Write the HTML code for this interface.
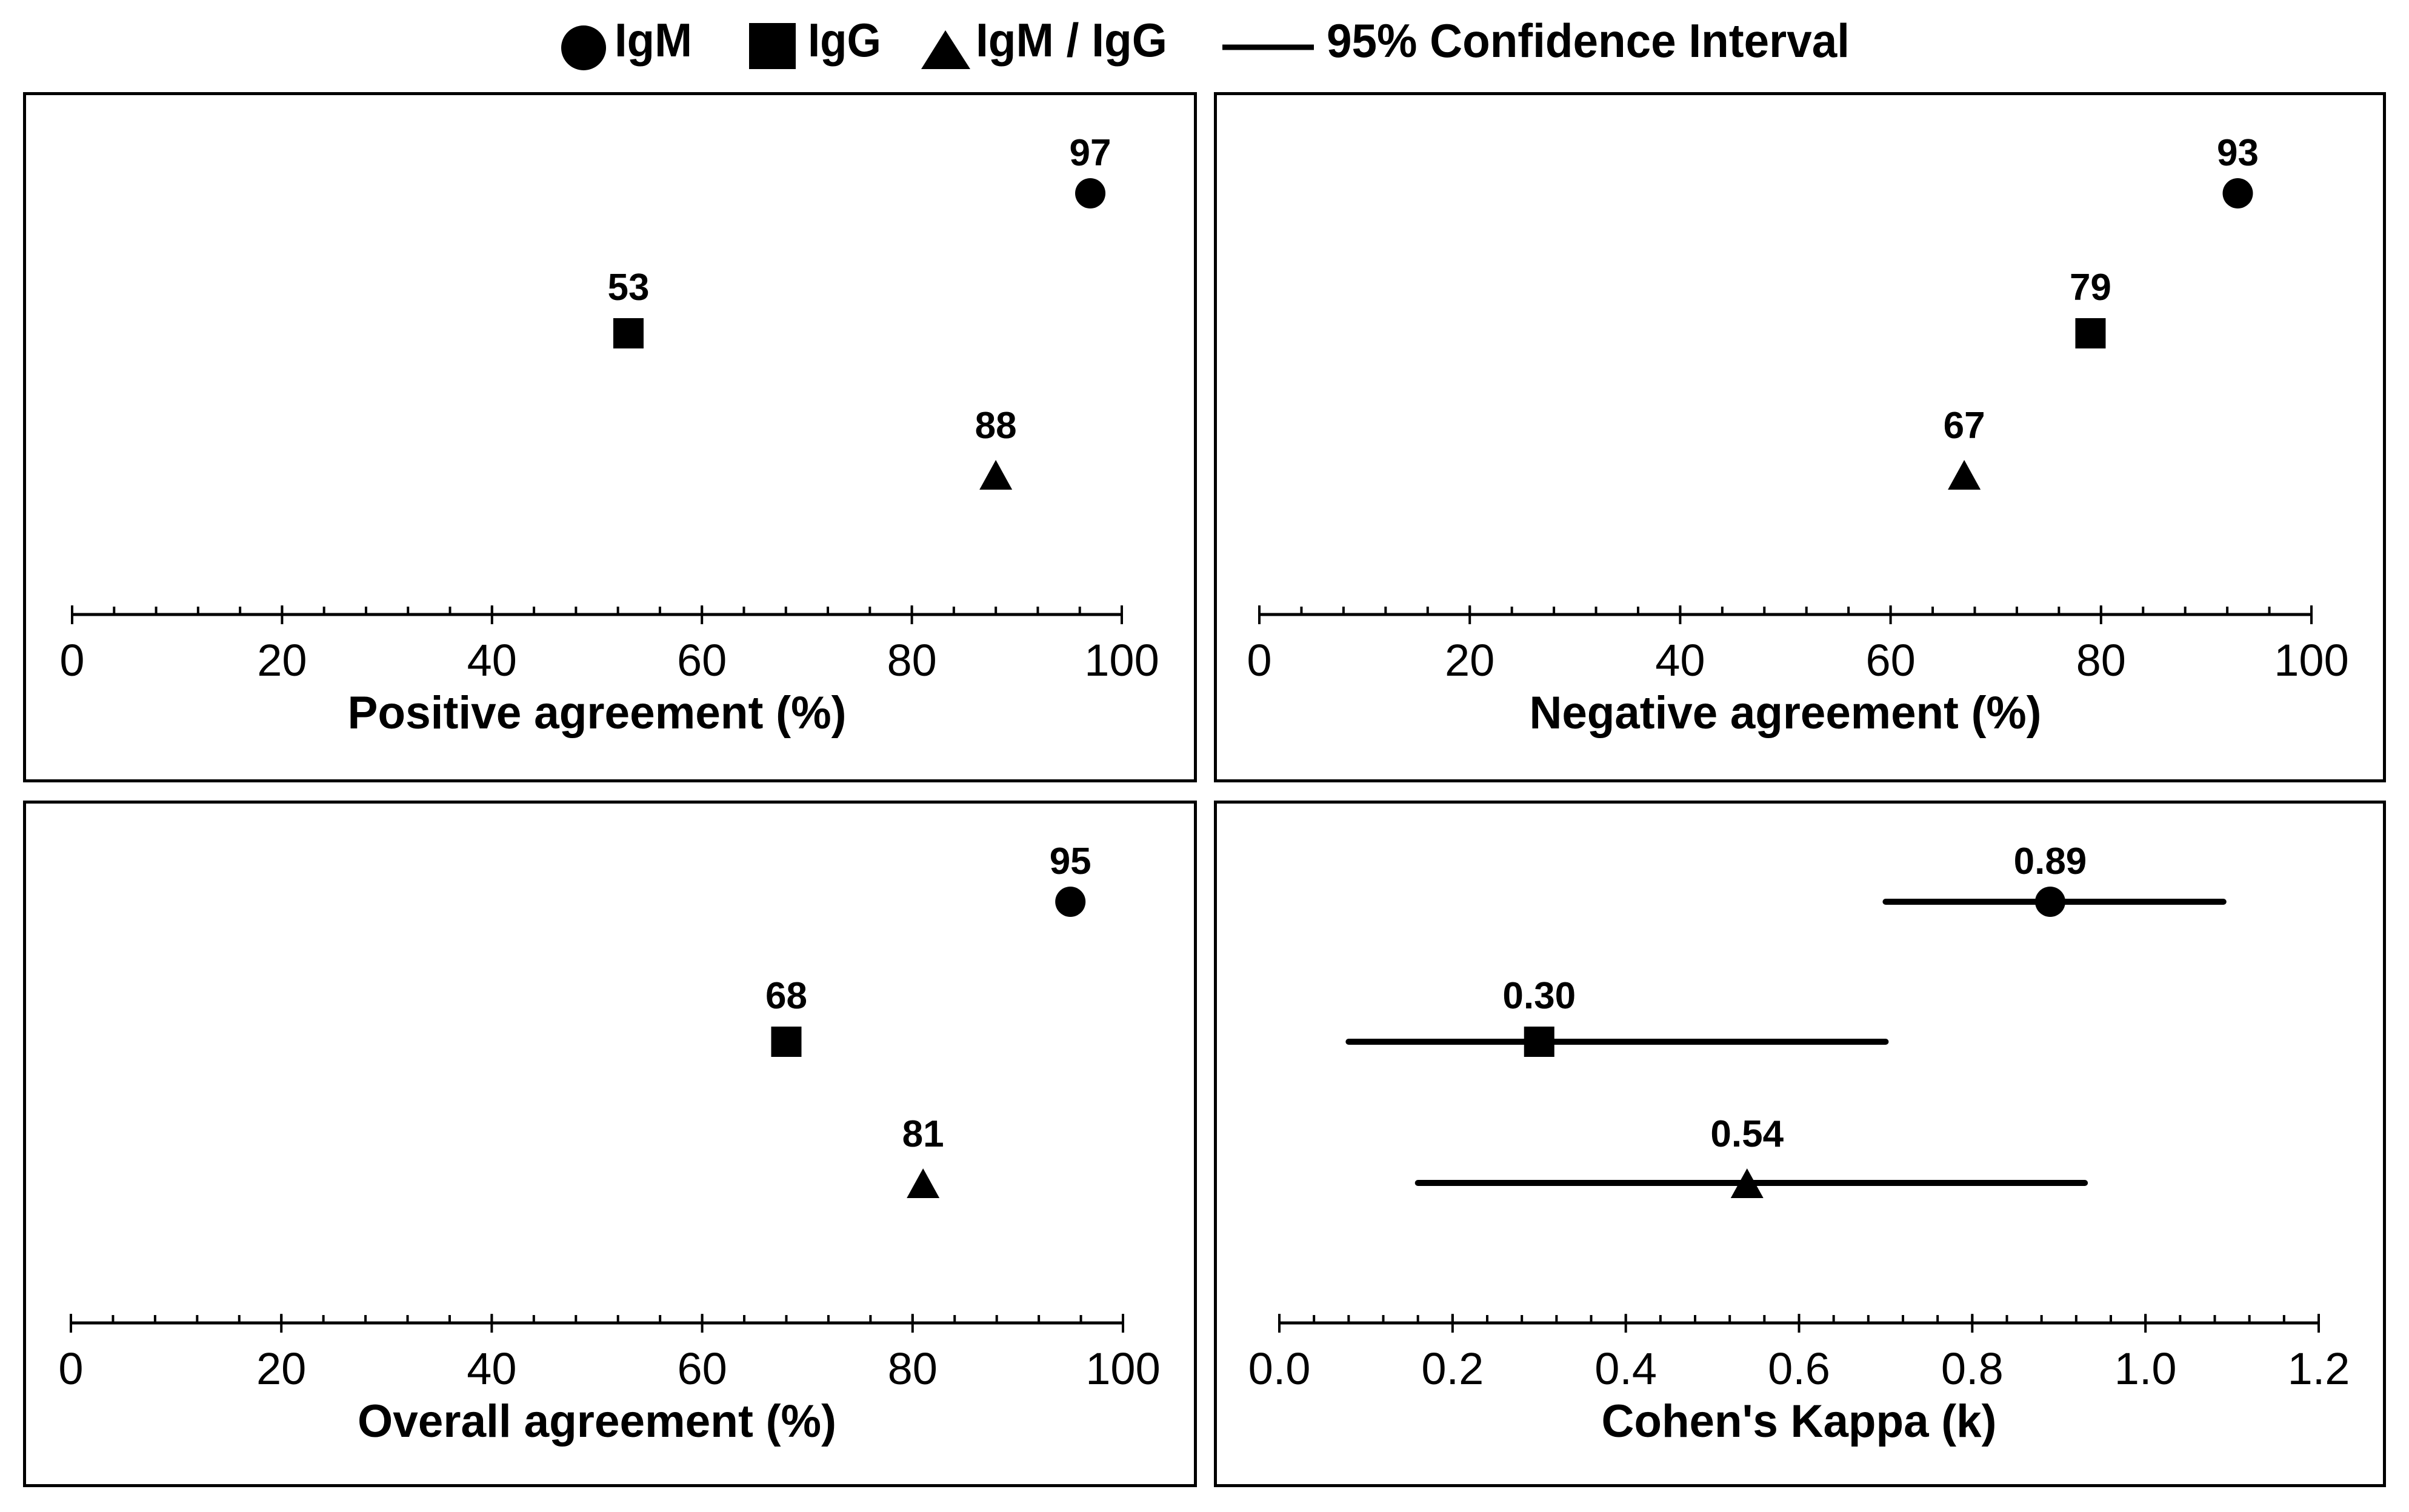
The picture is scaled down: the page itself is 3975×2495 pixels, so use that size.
<!DOCTYPE html>
<html><head><meta charset="utf-8"><style>
html,body{margin:0;padding:0;background:#fff;}
svg{display:block;}
text{font-family:"Liberation Sans",Arial,sans-serif;fill:#000;}
</style></head><body>
<svg id="fig" width="3975" height="2495" viewBox="0 0 3975 2495" xmlns="http://www.w3.org/2000/svg">
<g>
  <circle cx="963" cy="79" r="37"/>
  <text x="1014" y="93" font-size="78" font-weight="bold" textLength="128" lengthAdjust="spacingAndGlyphs">IgM</text>
  <rect x="1236" y="38" width="77" height="76"/>
  <text x="1333" y="93" font-size="78" font-weight="bold" textLength="121" lengthAdjust="spacingAndGlyphs">IgG</text>
  <polygon points="1520,114 1601,114 1560,50"/>
  <text x="1610" y="93" font-size="78" font-weight="bold" textLength="316" lengthAdjust="spacingAndGlyphs">IgM / IgG</text>
  <line x1="2017" y1="78" x2="2168" y2="78" stroke="#000" stroke-width="9"/>
  <text x="2189" y="94" font-size="78" font-weight="bold" textLength="863" lengthAdjust="spacingAndGlyphs">95% Confidence Interval</text>
</g>
</svg>
<script>
// Data
const seriesNames = ["IgM", "IgG", "IgM / IgG"];
const positiveValues = [97, 53, 88];
const negativeValues = [93, 79, 67];
const overallValues = [95, 68, 81];
const kappaValues = [0.89, 0.30, 0.54];
const kappaLower = [0.70, 0.08, 0.16];
const kappaUpper = [1.09, 0.70, 0.93];
const kappaLabels = ["0.89", "0.30", "0.54"];
const pctTicks = [0, 20, 40, 60, 80, 100];
const pctTickLabels = ["0", "20", "40", "60", "80", "100"];
const kappaTicks = [0, 0.2, 0.4, 0.6, 0.8, 1.0, 1.2];
const kappaTickLabels = ["0.0", "0.2", "0.4", "0.6", "0.8", "1.0", "1.2"];

const NS = "http://www.w3.org/2000/svg";
const svg = document.getElementById('fig');
function mk(tag, attrs, parent) {
  const e = document.createElementNS(NS, tag);
  for (const k in attrs) e.setAttribute(k, attrs[k]);
  (parent || svg).appendChild(e);
  return e;
}

const panels = [
  {id:"positive", x:38, y:152, w:1937, h:1139, ax0:119, ax1:1851, min:0, max:100, minor:4,
   ticks:pctTicks, tickLabels:pctTickLabels, values:positiveValues, labels:positiveValues.map(String),
   title:"Positive agreement (%)", titleLen:823, ci:false},
  {id:"negative", x:2003, y:152, w:1934, h:1139, ax0:2078, ax1:3814, min:0, max:100, minor:4,
   ticks:pctTicks, tickLabels:pctTickLabels, values:negativeValues, labels:negativeValues.map(String),
   title:"Negative agreement (%)", titleLen:845, ci:false},
  {id:"overall", x:38, y:1321, w:1937, h:1133, ax0:117, ax1:1853, min:0, max:100, minor:4,
   ticks:pctTicks, tickLabels:pctTickLabels, values:overallValues, labels:overallValues.map(String),
   title:"Overall agreement (%)", titleLen:790, ci:false},
  {id:"kappa", x:2003, y:1321, w:1934, h:1133, ax0:2111, ax1:3826, min:0, max:1.2, minor:0.04,
   ticks:kappaTicks, tickLabels:kappaTickLabels, values:kappaValues, labels:kappaLabels,
   title:"Cohen's Kappa (k)", titleLen:652, ci:false || true}
];
const rowOffsets = [167, 398, 631];
const labelGap = [46, 55, 60];

panels.forEach(p => {
  const g = mk('g', {});
  
  
  const frame = mk('rect', {x:p.x+2.5, y:p.y+2.5, width:p.w-5, height:p.h-5, fill:'none', stroke:'#000', 'stroke-width':5}, g);
  
  
  const sx = v => p.ax0 + (v - p.min) / (p.max - p.min) * (p.ax1 - p.ax0);
  const ay = p.y + 862;
  const ax = mk('g', {}, g);
  
  
  mk('line', {x1:p.ax0, y1:ay, x2:p.ax1, y2:ay, stroke:'#000', 'stroke-width':5}, ax);
  const nMinor = Math.round((p.max - p.min) / p.minor);
  for (let i = 0; i <= nMinor; i++) {
    const v = p.min + i * p.minor;
    mk('line', {x1:sx(v), y1:ay-13, x2:sx(v), y2:ay, stroke:'#000', 'stroke-width':4}, ax);
  }
  p.ticks.forEach((t, i) => {
    mk('line', {x1:sx(t), y1:ay-15, x2:sx(t), y2:ay+16, stroke:'#000', 'stroke-width':4}, ax);
    const tl = mk('text', {x:sx(t), y:ay+101, 'font-size':74, 'text-anchor':'middle'}, ax);
    tl.textContent = p.tickLabels[i];
    
    
  });
  const tt = mk('text', {x:(p.ax0+p.ax1)/2, y:ay+188, 'font-size':76, 'font-weight':'bold', 'text-anchor':'middle', textLength:p.titleLen, lengthAdjust:'spacingAndGlyphs'}, ax);
  tt.textContent = p.title;
  
  

  p.values.forEach((v, i) => {
    const cx = sx(v), cy = p.y + rowOffsets[i];
    if (p.ci) {
      const ci = mk('line', {x1:sx(kappaLower[i]), y1:cy, x2:sx(kappaUpper[i]), y2:cy, stroke:'#000', 'stroke-width':10, 'stroke-linecap':'round'}, g);
      
      
    }
    let m;
    if (i === 0) m = mk('circle', {cx:cx, cy:cy, r:25}, g);
    else if (i === 1) m = mk('rect', {x:cx-25, y:cy-25, width:50, height:50}, g);
    else m = mk('polygon', {points:`${cx-27},${cy+25} ${cx+27},${cy+25} ${cx},${cy-24}`}, g);
    
    
    const lb = mk('text', {x:cx, y:cy-labelGap[i], 'font-size':62, 'font-weight':'bold', 'text-anchor':'middle'}, g);
    lb.textContent = p.labels[i];
    
    
  });
});
</script>
</body></html>
